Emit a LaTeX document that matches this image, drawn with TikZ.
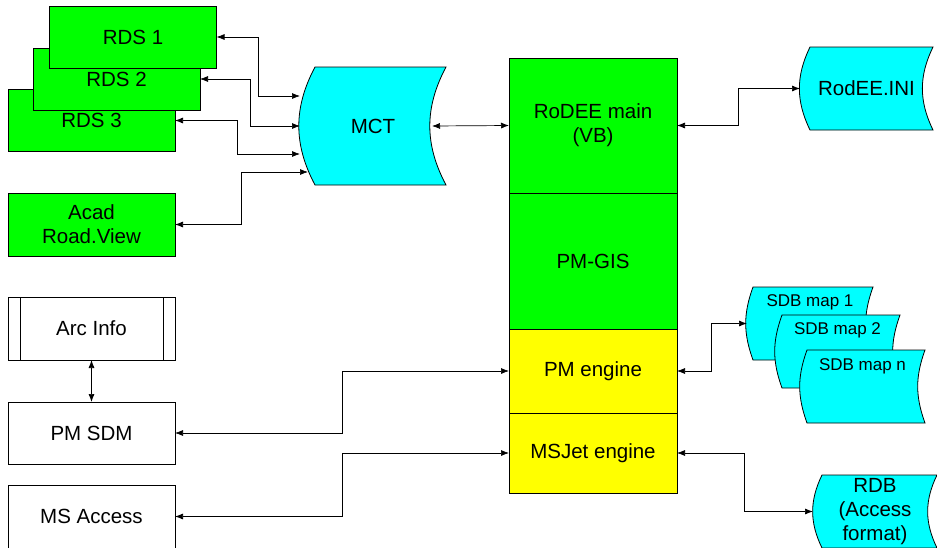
\documentclass[tikz,border=0pt]{standalone}
\usepackage{fontspec}
\setmainfont{Liberation Sans}
\usetikzlibrary{arrows.meta,backgrounds}
\definecolor{boxgreen}{RGB}{0,255,0}
\definecolor{boxcyan}{RGB}{0,255,255}
\definecolor{boxyellow}{RGB}{255,255,0}
\tikzset{
	box/.style={draw,line width=0.8pt,inner sep=0pt,outer sep=0pt,
		minimum width=167pt,minimum height=62pt,align=center,
		font=\fontsize{20.5}{24}\selectfont},
	prog/.style={box,fill=boxgreen},
	part/.style={box,minimum width=168pt},
	store/.style={box,draw=none},
	maplabel/.style={anchor=center,yshift=-15pt,font=\fontsize{17}{20}\selectfont},
	link/.style={<->,line width=0.7pt}
}
% stored data shape behind a node: node, depth of the bulge, bend angle
\newcommand{\storeshape}[3]{%
	\begin{scope}[on background layer]
		\filldraw[fill=boxcyan,line width=0.8pt]
		([xshift=#2]#1.north west) to[bend right=#3]
		([xshift=#2]#1.south west) -- (#1.south east)
		to[bend left=#3] (#1.north east) -- cycle;
	\end{scope}}
\begin{document}
\begin{tikzpicture}[x=1pt,y=-1pt,>={Latex[length=8pt,width=6pt]}]
	\useasboundingbox (0,0) rectangle (937,547);
	% programs on the left
	\node[prog] (rds3) at (91.5,120.5) {RDS 3};
	\node[prog] (rds2) at (116.5,79) {RDS 2};
	\node[prog] (rds1) at (133,37) {RDS 1};
	\node[prog,minimum height=63pt] (acad) at (91.5,224.5) {Acad\\Road.View};
	\node[box,minimum height=63pt] (arc) at (91.5,328.5) {Arc Info};
	\draw[line width=0.8pt] ([xshift=12pt]arc.north west) -- ([xshift=12pt]arc.south west);
	\draw[line width=0.8pt] ([xshift=-12pt]arc.north east) -- ([xshift=-12pt]arc.south east);
	\node[box] (pmsdm) at (91.5,433) {PM SDM};
	\node[box,minimum height=63pt] (msacc) at (91.5,516.5) {MS Access};
	% the main column
	\node[part,fill=boxgreen,minimum height=135pt] (main) at (593,125.5) {RoDEE main\\(VB)};
	\node[part,fill=boxgreen,minimum height=136pt] (gis) at (593,261) {PM-GIS};
	\node[part,fill=boxyellow,minimum height=84pt] (pmeng) at (593,371) {PM engine};
	\node[part,fill=boxyellow,minimum height=80pt] (msjet) at (593,453) {MSJet engine};
	% stored data
	\node[store,minimum width=146pt,minimum height=118pt] (mct) at (373,126) {MCT};
	\storeshape{mct}{15pt}{28}
	\node[store,minimum width=133pt,minimum height=83pt] (ini) at (866.5,88.5) {RodEE.INI};
	\storeshape{ini}{10pt}{26}
	\node[store,minimum width=126pt,minimum height=73pt,
		label={[maplabel]north:SDB map 1}] (sdb1) at (810,323.5) {};
	\storeshape{sdb1}{6pt}{20}
	\node[store,minimum width=125pt,minimum height=73pt,
		label={[maplabel]north:SDB map 2}] (sdb2) at (837.5,351.5) {};
	\storeshape{sdb2}{7pt}{20}
	\node[store,minimum width=125pt,minimum height=73pt,
		label={[maplabel,yshift=-1pt]north:SDB map n}] (sdbn) at (862.5,386.5) {};
	\storeshape{sdbn}{7pt}{20}
	\node[store,minimum width=124pt,minimum height=73pt] (rdb) at (875,511.5) {RDB\\(Access\\format)};
	\storeshape{rdb}{9pt}{26}
	% connectors
	\draw[link] (rds1.east) -- ++(42,0) |- ([yshift=30pt]mct.west);
	\draw[link] (rds2.east) -- ++(50,0) |- (mct.west);
	\draw[link] (rds3.east) -- ++(62,0) |- ([yshift=-28pt]mct.west);
	\draw[link] (acad.east) -- ++(66,0) |- ([xshift=8pt,yshift=-46pt]mct.west);
	\draw[link] ([xshift=-14pt]mct.east) -- (main.west);
	\draw[link] (main.east) -- ++(61,0) |- (ini.west);
	\draw[link] (pmeng.east) -- ++(34,0) |- (sdb1.west);
	\draw[link] (msjet.east) -- ++(67,0) |- (rdb.west);
	\draw[link] (pmeng.west) -- ++(-167,0) |- (pmsdm.east);
	\draw[link] (msjet.west) -- ++(-167,0) |- (msacc.east);
	\draw[link] (arc.south) -- (pmsdm.north);
\end{tikzpicture}
\end{document}
